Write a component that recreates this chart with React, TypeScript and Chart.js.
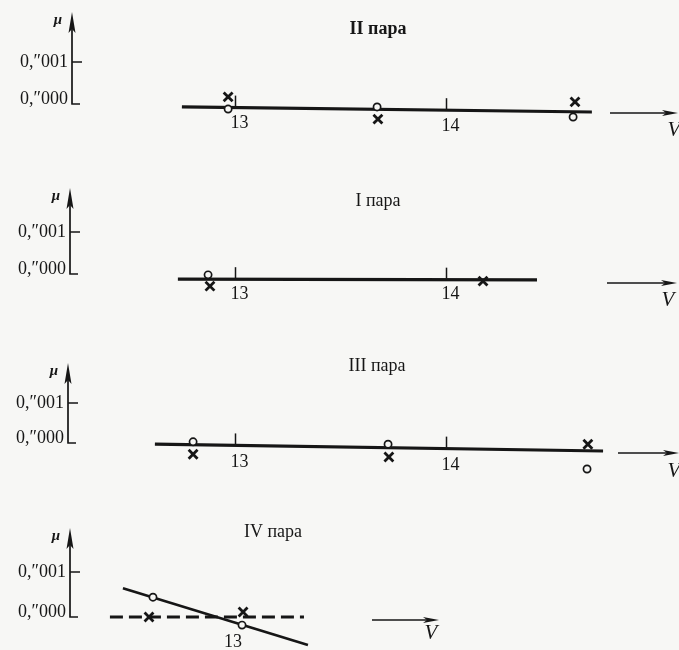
import React, { useEffect, useRef } from "react";
import { Chart, registerables } from "chart.js";

Chart.register(...registerables);

// ---------- text ----------
const TITLES = ["II пара", "I пара", "III пара", "IV пара"];
const TITLE_BOLD = [true, false, false, false];
const Y_TICK_VALUES = [0.001, 0];
const Y_TICK_LABELS = ["0,″001", "0,″000"];
const Y_AXIS_LABEL = "μ";
const X_AXIS_LABEL = "V";
const X_TICKS = [[13, 14], [13, 14], [13, 14], [13]];

// ---------- data (V, μ in arcsec) ----------
// II пара
const II_FIT_V = [12.746, 14.689];
const II_FIT_MU = [-0.00007, -0.00019];
const II_CIRCLE_V = [12.965, 13.671, 14.6];
const II_CIRCLE_MU = [-0.00012, -0.00007, -0.00031];
const II_CROSS_V = [12.965, 13.675, 14.609];
const II_CROSS_MU = [0.00017, -0.00036, 0.00005];

// I пара
const I_FIT_V = [12.727, 14.429];
const I_FIT_MU = [-0.00012, -0.00014];
const I_CIRCLE_V = [12.87];
const I_CIRCLE_MU = [-0.00002];
const I_CROSS_V = [12.879, 14.173];
const I_CROSS_MU = [-0.00029, -0.00017];

// III пара
const III_FIT_V = [12.618, 14.742];
const III_FIT_MU = [-0.00003, -0.0002];
const III_CIRCLE_V = [12.799, 13.723, 14.666];
const III_CIRCLE_MU = [0.00003, -0.00003, -0.00065];
const III_CROSS_V = [12.799, 13.727, 14.67];
const III_CROSS_MU = [-0.00028, -0.00035, -0.00003];

// IV пара
const IV_FIT_V = [12.495, 13.376];
const IV_FIT_MU = [0.00064, -0.00062];
const IV_ZERO_V = [12.433, 13.357];
const IV_ZERO_MU = [0, 0];
const IV_CIRCLE_V = [12.638, 13.062];
const IV_CIRCLE_MU = [0.00044, -0.00018];
const IV_CROSS_V = [12.619, 13.067];
const IV_CROSS_MU = [0, 0.00011];

// ---------- layout / style ----------
const W = 679;
const H = 650;
const INK = "#161616";
const PAPER = "#f7f7f5";
const SERIF = "'Liberation Serif', 'DejaVu Serif', serif";

const LAYOUT = [
  { px13: 235.5, pxPerV: 211, zeroPx: 104, pxPerMilli: 42, axisX: 72, axisLen: 92, titleX: 378, titleDy: -75, arrowX0: 610, arrowX1: 678, arrowDy: 9, vX: 674, vDy: 26, tickMarks: true, labelDy: 16 },
  { px13: 235.5, pxPerV: 211, zeroPx: 274, pxPerMilli: 42, axisX: 70, axisLen: 86, titleX: 378, titleDy: -73, arrowX0: 607, arrowX1: 677, arrowDy: 9, vX: 668, vDy: 26, tickMarks: true, labelDy: 15 },
  { px13: 235.5, pxPerV: 211, zeroPx: 443, pxPerMilli: 40, axisX: 68, axisLen: 80, titleX: 377, titleDy: -77, arrowX0: 618, arrowX1: 679, arrowDy: 10, vX: 674, vDy: 28, tickMarks: true, labelDy: 17 },
  { px13: 229, pxPerV: 210, zeroPx: 617, pxPerMilli: 45, axisX: 70, axisLen: 89, titleX: 273, titleDy: -85, arrowX0: 372, arrowX1: 439, arrowDy: 3, vX: 431, vDy: 16, tickMarks: false, labelDy: 25 },
];

const zip = (xs: number[], ys: number[]) => xs.map((x, i) => ({ x, y: ys[i] }));

const PANELS = [
  { fitV: II_FIT_V, fitMu: II_FIT_MU, circV: II_CIRCLE_V, circMu: II_CIRCLE_MU, crossV: II_CROSS_V, crossMu: II_CROSS_MU, zeroV: null as number[] | null, zeroMu: null as number[] | null },
  { fitV: I_FIT_V, fitMu: I_FIT_MU, circV: I_CIRCLE_V, circMu: I_CIRCLE_MU, crossV: I_CROSS_V, crossMu: I_CROSS_MU, zeroV: null, zeroMu: null },
  { fitV: III_FIT_V, fitMu: III_FIT_MU, circV: III_CIRCLE_V, circMu: III_CIRCLE_MU, crossV: III_CROSS_V, crossMu: III_CROSS_MU, zeroV: null, zeroMu: null },
  { fitV: IV_FIT_V, fitMu: IV_FIT_MU, circV: IV_CIRCLE_V, circMu: IV_CIRCLE_MU, crossV: IV_CROSS_V, crossMu: IV_CROSS_MU, zeroV: IV_ZERO_V, zeroMu: IV_ZERO_MU },
];

function buildScales() {
  const scales: any = {};
  LAYOUT.forEach((L, i) => {
    const xMin = 13 - L.px13 / L.pxPerV;
    const xMax = xMin + W / L.pxPerV;
    const yMax = (L.zeroPx / L.pxPerMilli) * 0.001;
    const yMin = yMax - (H / L.pxPerMilli) * 0.001;
    scales["x" + i] = { type: "linear", display: false, min: xMin, max: xMax };
    scales["y" + i] = { type: "linear", display: false, min: yMin, max: yMax };
  });
  return scales;
}

function buildDatasets() {
  const ds: any[] = [];
  PANELS.forEach((p, i) => {
    const ax = { xAxisID: "x" + i, yAxisID: "y" + i };
    ds.push({
      type: "line", label: TITLES[i] + " fit", data: zip(p.fitV, p.fitMu), ...ax,
      borderColor: INK, borderWidth: i === 3 ? 2.6 : 3.2, pointRadius: 0, fill: false, order: 2,
    });
    if (p.zeroV && p.zeroMu) {
      ds.push({
        type: "line", label: TITLES[i] + " zero", data: zip(p.zeroV, p.zeroMu), ...ax,
        borderColor: INK, borderWidth: 3, borderDash: [13, 6], pointRadius: 0, fill: false, order: 3,
      });
    }
    ds.push({
      type: "scatter", label: TITLES[i] + " o", data: zip(p.circV, p.circMu), ...ax,
      pointStyle: "circle", pointRadius: 3.6, pointBorderWidth: 1.7,
      pointBorderColor: INK, pointBackgroundColor: PAPER, order: 0,
    });
    ds.push({
      type: "scatter", label: TITLES[i] + " x", data: zip(p.crossV, p.crossMu), ...ax,
      pointStyle: "crossRot", pointRadius: 6.3, pointBorderWidth: 2.8,
      pointBorderColor: INK, pointBackgroundColor: INK, order: 1,
    });
  });
  return ds;
}

const decorPlugin = {
  id: "decor",
  beforeDraw(chart: any) {
    const ctx = chart.ctx;
    ctx.save();
    ctx.fillStyle = PAPER;
    ctx.fillRect(0, 0, chart.width, chart.height);
    ctx.restore();
  },
  beforeDatasetsDraw(chart: any) {
    const ctx: CanvasRenderingContext2D = chart.ctx;
    ctx.save();
    ctx.strokeStyle = INK;
    ctx.fillStyle = INK;
    LAYOUT.forEach((L, i) => {
      const xs = chart.scales["x" + i];
      const ys = chart.scales["y" + i];
      const p = PANELS[i];
      const yZero = ys.getPixelForValue(0);
      const yOne = ys.getPixelForValue(0.001);
      const x0 = L.axisX;
      const yTip = yZero - L.axisLen;

      // vertical μ axis
      ctx.lineWidth = 1.7;
      ctx.beginPath();
      ctx.moveTo(x0, yZero);
      ctx.lineTo(x0, yTip + 12);
      ctx.moveTo(x0 - 0.8, yZero);
      ctx.lineTo(x0 + 8, yZero);
      ctx.moveTo(x0, yOne);
      ctx.lineTo(x0 + 10, yOne);
      ctx.stroke();
      ctx.beginPath();
      ctx.moveTo(x0, yTip);
      ctx.lineTo(x0 - 3.5, yTip + 21);
      ctx.lineTo(x0, yTip + 17);
      ctx.lineTo(x0 + 3.5, yTip + 21);
      ctx.closePath();
      ctx.fill();

      // axis texts
      ctx.textBaseline = "middle";
      ctx.textAlign = "right";
      ctx.font = `18px ${SERIF}`;
      Y_TICK_VALUES.forEach((v, k) => {
        const y = ys.getPixelForValue(v) + (v === 0 ? -5 : 0);
        ctx.fillText(Y_TICK_LABELS[k], x0 - 4, y);
      });
      ctx.textAlign = "center";
      ctx.font = `italic bold 15px ${SERIF}`;
      ctx.fillText(Y_AXIS_LABEL, x0 - 14, yTip + 8);

      // title
      ctx.font = `${TITLE_BOLD[i] ? "bold " : ""}18px ${SERIF}`;
      ctx.fillText(TITLES[i], L.titleX, yZero + L.titleDy);

      // V ticks on the fitted line
      const fitAt = (v: number) => {
        const t = (v - p.fitV[0]) / (p.fitV[1] - p.fitV[0]);
        return p.fitMu[0] + t * (p.fitMu[1] - p.fitMu[0]);
      };
      ctx.font = `18px ${SERIF}`;
      X_TICKS[i].forEach((v) => {
        const x = xs.getPixelForValue(v);
        const yl = L.tickMarks ? ys.getPixelForValue(fitAt(v)) : yZero;
        if (L.tickMarks) {
          ctx.lineWidth = 1.5;
          ctx.beginPath();
          ctx.moveTo(x, yl - 12);
          ctx.lineTo(x, yl - 1);
          ctx.stroke();
        }
        ctx.fillText(String(v), x + 4, yl + L.labelDy);
      });

      // V arrow
      const ya = yZero + L.arrowDy;
      ctx.lineWidth = 1.3;
      ctx.beginPath();
      ctx.moveTo(L.arrowX0, ya);
      ctx.lineTo(L.arrowX1 - 8, ya);
      ctx.stroke();
      ctx.beginPath();
      ctx.moveTo(L.arrowX1, ya);
      ctx.lineTo(L.arrowX1 - 16, ya - 3);
      ctx.lineTo(L.arrowX1 - 12, ya);
      ctx.lineTo(L.arrowX1 - 16, ya + 3);
      ctx.closePath();
      ctx.fill();
      ctx.font = `italic 21px ${SERIF}`;
      ctx.fillText(X_AXIS_LABEL, L.vX, yZero + L.vDy);
    });
    ctx.restore();
  },
};

export default function App() {
  const ref = useRef<HTMLCanvasElement | null>(null);
  useEffect(() => {
    if (!ref.current) return;
    const chart = new Chart(ref.current, {
      type: "scatter",
      data: { datasets: buildDatasets() },
      options: {
        animation: false,
        responsive: false,
        events: [],
        layout: { padding: 0, autoPadding: false },
        plugins: { legend: { display: false }, tooltip: { enabled: false }, title: { display: false } },
        scales: buildScales(),
      },
      plugins: [decorPlugin],
    } as any);
    return () => chart.destroy();
  }, []);
  return (
    <div style={{ position: "fixed", left: 0, top: 0, width: W, height: H, background: PAPER }}>
      <canvas ref={ref} width={W} height={H} style={{ display: "block", width: W, height: H }} />
    </div>
  );
}
